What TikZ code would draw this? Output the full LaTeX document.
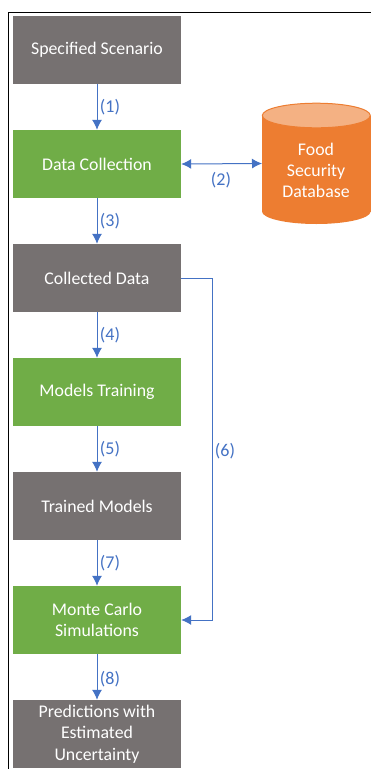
\documentclass[tikz,border=0pt]{standalone}
\usepackage{fontspec}
\setmainfont{Carlito}
\usetikzlibrary{arrows.meta}
\definecolor{boxgray}{HTML}{767171}
\definecolor{boxgreen}{HTML}{70AD47}
\definecolor{linkblue}{HTML}{4472C4}
\definecolor{dborange}{HTML}{ED7D31}
\definecolor{dbtop}{HTML}{F4B183}
\begin{document}
\begin{tikzpicture}[x=1pt, y=-1pt]
    \tikzset{
        >={Latex[length=10pt,width=10pt]},
        box/.style={minimum width=168pt, minimum height=68pt, inner sep=0pt, align=center, text=white, font=\fontsize{17.8}{21.3}\selectfont},
        graybox/.style={box, fill=boxgray},
        greenbox/.style={box, fill=boxgreen},
        link/.style={linkblue, line width=1pt, ->},
        num/.style={text=linkblue, font=\fontsize{18}{21}\selectfont}
    }
    \useasboundingbox (0,0) rectangle (371,769);
    \fill[white] (0,0) rectangle (371,769);
    \draw[line width=1pt] (371,12) -- (8.5,12) -- (8.5,769);

    \node[graybox] (scenario) at (97,50) {Specified Scenario};
    \node[greenbox] (collection) at (97,164) {Data Collection};
    \node[graybox] (collected) at (97,278) {Collected Data};
    \node[greenbox] (training) at (97,392) {Models Training};
    \node[graybox] (trained) at (97,506) {Trained Models};
    \node[greenbox] (montecarlo) at (97,620) {Monte Carlo\\Simulations};
    \node[graybox] (predictions) at (97,734) {Predictions with\\Estimated\\Uncertainty};

    % database
    \fill[dborange] (316.3,211.5) ellipse [x radius=54.3, y radius=12.5];
    \fill[dborange] (262,115.5) rectangle (370.6,211.5);
    \draw[dborange, fill=dbtop, line width=1pt] (316.3,115.5) ellipse [x radius=54, y radius=12.3];
    \node[box, minimum width=0pt, minimum height=0pt] (dbtext) at (316,170.5) {Food\\Security\\Database};

    \coordinate (dbleft) at (262,163.5);
    \coordinate (bendtop) at (212,278);
    \coordinate (bendbot) at (212,620);

    \draw[link] (scenario) -- (collection);
    \draw[link] (collection) -- (collected);
    \draw[link] (collected) -- (training);
    \draw[link] (training) -- (trained);
    \draw[link] (trained) -- (montecarlo);
    \draw[link] (montecarlo) -- (predictions);
    \draw[link, <->] (collection.east) -- (dbleft);
    \draw[link] (collected.east) -- (bendtop) -- (bendbot) -- (montecarlo.east);

    \node[num] (n1) at (110,107) {(1)};
    \node[num] (n2) at (221,180) {(2)};
    \node[num] (n3) at (110,221) {(3)};
    \node[num] (n4) at (110,335) {(4)};
    \node[num] (n5) at (110,449) {(5)};
    \node[num] (n6) at (225,451) {(6)};
    \node[num] (n7) at (110,563) {(7)};
    \node[num] (n8) at (110,679) {(8)};
\end{tikzpicture}
\end{document}
